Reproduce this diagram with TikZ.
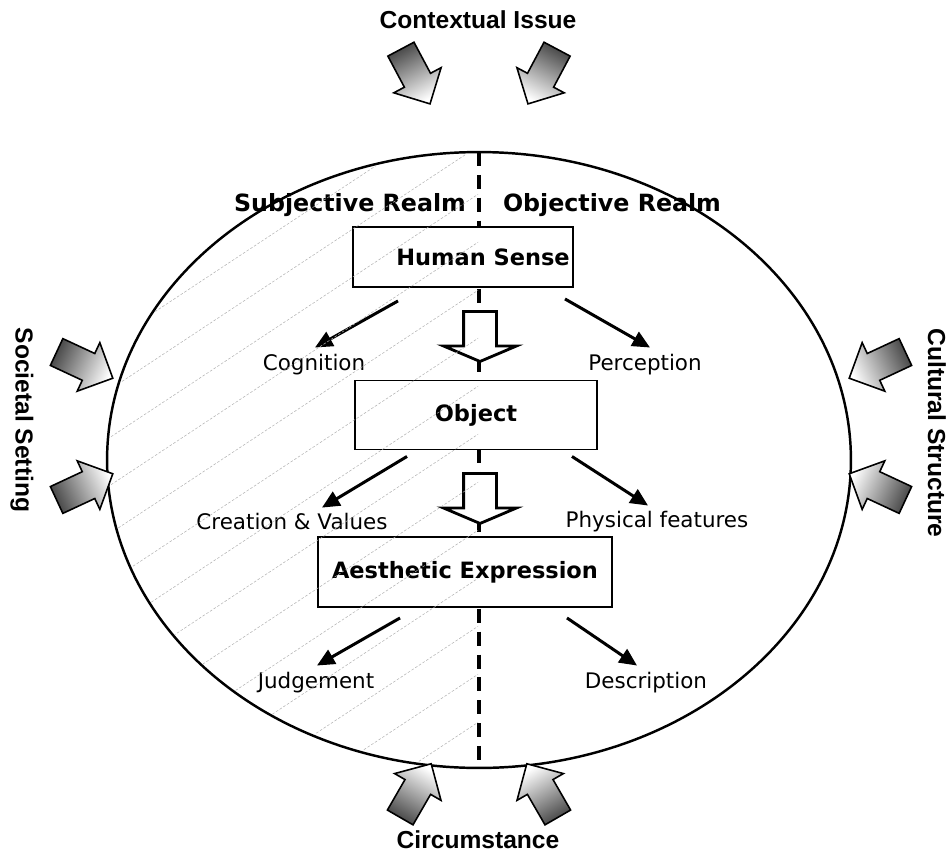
\documentclass[tikz,border=0pt]{standalone}
\usepackage{fontspec}
\setmainfont{DejaVu Sans}
\newfontfamily\labelfont{Liberation Sans}
\usetikzlibrary{arrows.meta,positioning,shapes.geometric,shapes.arrows}

\begin{document}
\begin{tikzpicture}[x=0.02cm, y=-0.02cm,
  realm/.style={font=\fontsize{13.5}{15}\selectfont\bfseries},
  stage/.style={draw, fill=white, line width=1.1pt, inner sep=0pt, font=\fontsize{12.8}{14}\selectfont\bfseries},
  item/.style={font=\fontsize{12.2}{14}\selectfont, inner sep=1pt},
  outer/.style={font=\labelfont\fontsize{14}{16}\selectfont\bfseries},
  pointer/.style={-{Triangle[length=10pt,width=9pt]}, line width=1.7pt},
  hatch/.style={gray!60, line width=0.3pt, dash pattern=on 1.5pt off 1pt},
  hollow/.style={single arrow, draw, fill=white, line width=1.6pt, rotate=-90,
    minimum height=1cm, inner xsep=0pt, inner ysep=0.3cm, single arrow head extend=0.4cm,
    single arrow tip angle=134, outer sep=0pt},
  force/.style={single arrow, draw, line width=0.9pt, top color=white, bottom color=gray!55!black,
    minimum height=1.24cm, inner xsep=0pt, inner ysep=0.28cm, single arrow head extend=0.24cm}
]
  \useasboundingbox (0,0) rectangle (950,862);

  % the realm circle and its divide
  \node[ellipse, draw, line width=1.4pt, minimum width=14.88cm, minimum height=12.32cm,
    inner sep=0pt, outer sep=0pt] (world) at (479,460) {};
  \draw[line width=1.8pt, dash pattern=on 8pt off 5pt] (world.north) -- (world.south);

  \node[realm] (subj) at (350,205) {Subjective Realm};
  \node[realm] (obj)  at (612,205) {Objective Realm};

  % stages
  \node[stage, minimum width=4.4cm, minimum height=1.2cm]  (sense) at (463,257) {\hspace*{0.8cm}Human Sense};
  \node[stage, minimum width=4.84cm, minimum height=1.38cm] (object) at (476,415) {Object};
  \node[stage, minimum width=5.88cm, minimum height=1.4cm]  (expr) at (465,572) {Aesthetic Expression};

  \node[hollow] (down1) at (480,333) {};
  \node[hollow] (down2) at (480,495) {};

  % outcomes
  \node[item] (cog)  at (314,365) {Cognition};
  \node[item] (perc) at (645,365) {Perception};
  \node[item] (crea) at (292,522) {Creation \& Values};
  \node[item] (phys) at (657,522) {Physical features};
  \node[item] (judg) at (316,683) {Judgement};
  \node[item] (desc) at (646,683) {Description};

  \draw[pointer] ([xshift=-1.3cm,yshift=-0.26cm]sense.south) -- ([xshift=0.02cm,yshift=0.1cm]cog.north);
  \draw[pointer] ([xshift=2.04cm,yshift=-0.22cm]sense.south) -- ([xshift=0.1cm,yshift=0.1cm]perc.north);
  \draw[pointer] ([xshift=-1.38cm,yshift=-0.12cm]object.south) -- ([xshift=0.6cm,yshift=0.08cm]crea.north);
  \draw[pointer] ([xshift=1.92cm,yshift=-0.12cm]object.south) -- ([xshift=-0.18cm,yshift=0.08cm]phys.north);
  \draw[pointer] ([xshift=-1.3cm,yshift=-0.2cm]expr.south) -- ([xshift=0.02cm,yshift=0.1cm]judg.north);
  \draw[pointer] ([xshift=2.04cm,yshift=-0.2cm]expr.south) -- ([xshift=-0.18cm,yshift=0.1cm]desc.north);

  % hatched subjective half
  \begin{scope}
    \clip (479,460) ellipse [x radius=7.4cm, y radius=6.12cm];
    \clip (100,100) rectangle (478,800);
    \foreach \k in {-5,...,13}
      \draw[hatch] (100,{396+48*\k}) -- (480,{145+48*\k});
  \end{scope}

  % outside influences
  \node[outer] (ctx)  at (478,20)  {Contextual Issue};
  \node[outer] (circ) at (478,840) {Circumstance};
  \node[outer, rotate=-90] (soc)  at (22,420)  {Societal Setting};
  \node[outer, rotate=-90] (cult) at (937,433) {Cultural Structure};

  \node[force, rotate=-62,  shading angle=-152] (in1) at (412,70)  {};
  \node[force, rotate=-118, shading angle=152]  (in2) at (546,70)  {};
  \node[force, rotate=-25,  shading angle=-115] (in3) at (78,362)  {};
  \node[force, rotate=25,   shading angle=-65]  (in4) at (78,490)  {};
  \node[force, rotate=-155, shading angle=115]  (in5) at (884,362) {};
  \node[force, rotate=155,  shading angle=65]   (in6) at (884,490) {};
  \node[force, rotate=60,   shading angle=-30]  (in7) at (412,797) {};
  \node[force, rotate=120,  shading angle=30]   (in8) at (546,797) {};
\end{tikzpicture}
\end{document}
